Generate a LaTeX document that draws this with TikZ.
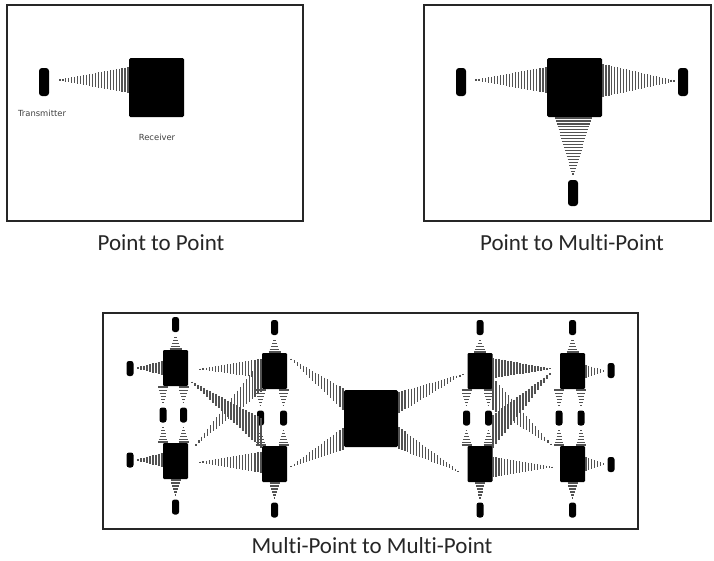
\documentclass[tikz,border=0pt]{standalone}
\usepackage{fontspec}
\setmainfont{Carlito}[Ligatures={NoCommon}]
\newfontfamily\lblfont{DejaVu Sans}
\tikzset{
  frame/.style={draw=black!85, line width=2pt},
  stripe/.style={line width=1.2pt, black!68},
  rxbox/.style={fill=black, rounded corners=1.5pt, inner sep=0pt, minimum width=55pt, minimum height=59pt},
  bigtx/.style={fill=black, rounded corners=3pt, inner sep=0pt, minimum width=10pt, minimum height=28pt},
  mbox/.style={fill=black, rounded corners=1.2pt, inner sep=0pt, minimum width=25pt, minimum height=36pt},
  stx/.style={fill=black, rounded corners=2.5pt, inner sep=0pt, minimum width=7pt, minimum height=15pt},
  capt/.style={font=\fontsize{23}{27}\selectfont, text=black!85, inner sep=0pt},
  lbl/.style={font=\lblfont\fontsize{8.4}{10}\selectfont, text=black!75, inner sep=0pt}
}
% beam with vertical stripes: apex x, apex y, base x, base y1, base y2
\newcommand\vsbeam[5]{%
  \pgfmathtruncatemacro\bmN{max(2,round(abs((#3)-(#1))/3))}%
  \foreach \bmI in {1,...,\bmN}{%
    \pgfmathsetmacro\bmT{\bmI/\bmN}%
    \pgfmathsetmacro\bmX{(#1)+\bmT*((#3)-(#1))}%
    \pgfmathsetmacro\bmYa{(#2)+\bmT*((#4)-(#2))}%
    \pgfmathsetmacro\bmYb{(#2)+\bmT*((#5)-(#2))}%
    \draw[stripe] (\bmX,\bmYa) -- (\bmX,\bmYb);
  }}
% beam with horizontal stripes: apex x, apex y, base y, base x1, base x2
\newcommand\hsbeam[5]{%
  \pgfmathtruncatemacro\bmN{max(2,round(abs((#3)-(#2))/3))}%
  \foreach \bmI in {1,...,\bmN}{%
    \pgfmathsetmacro\bmT{\bmI/\bmN}%
    \pgfmathsetmacro\bmY{(#2)+\bmT*((#3)-(#2))}%
    \pgfmathsetmacro\bmXa{(#1)+\bmT*((#4)-(#1))}%
    \pgfmathsetmacro\bmXb{(#1)+\bmT*((#5)-(#1))}%
    \draw[stripe] (\bmXa,\bmY) -- (\bmXb,\bmY);
  }}
% column of the multi-point panel: name, cx, y0 (top of upper box), left mid x, right mid x
\newcommand\mpcol[5]{%
  \node[mbox] (#1t) at (#2,#3+18) {};
  \node[mbox] (#1b) at (#2,#3+111) {};
  \node[stx] (#1tt) at (#2,#3-25.5) {};
  \node[stx] (#1ml) at (#4,#3+65) {};
  \node[stx] (#1mr) at (#5,#3+65) {};
  \node[stx] (#1bb) at (#2,#3+157) {};
  \hsbeam{#2}{(#3)-15}{(#3)-1}{(#2)-6}{(#2)+6}
  \hsbeam{#4}{(#3)+56}{(#3)+37}{(#4)-5}{(#4)+5}
  \hsbeam{#5}{(#3)+56}{(#3)+37}{(#5)-5}{(#5)+5}
  \hsbeam{#4}{(#3)+75}{(#3)+92}{(#4)-5}{(#4)+5}
  \hsbeam{#5}{(#3)+75}{(#3)+92}{(#5)-5}{(#5)+5}
  \hsbeam{#2}{(#3)+148}{(#3)+130}{(#2)-5}{(#2)+5}
}
\begin{document}
\begin{tikzpicture}[x=1pt,y=-1pt]
\useasboundingbox[fill=white] (0,0) rectangle (714,560);

% ---------- Point to Point ----------
\draw[frame] (7,5) rectangle (303,221);
\node[bigtx] (p1tx) at (44,82) {};
\node[rxbox] (p1rx) at (156.5,87.5) {};
\vsbeam{57}{80}{128}{67}{93}
\node[lbl] (p1tl) at (42,113) {Transmitter};
\node[lbl] (p1rl) at (157,137) {Receiver};
\node[capt] (cap1) at (161,243) {Point to Point};

% ---------- Point to Multi-Point ----------
\draw[frame] (424,5) rectangle (711,221);
\node[rxbox] (p2rx) at (574.5,87.5) {};
\node[bigtx] (p2l) at (461,82) {};
\node[bigtx] (p2r) at (683,82) {};
\node[bigtx, minimum height=26pt] (p2b) at (573,193) {};
\vsbeam{473}{80}{546}{67}{93}
\vsbeam{677}{81}{603}{64}{97}
\hsbeam{573}{177}{118}{555}{592}
\node[capt] (cap2) at (572,243) {Point to Multi-Point};

% ---------- Multi-Point to Multi-Point ----------
\draw[frame] (103,313) rectangle (638,529);
\node[fill=black, rounded corners=1.5pt, inner sep=0pt, minimum width=54pt, minimum height=57pt] (big) at (371,418.5) {};
\mpcol{A}{175.5}{350}{163}{183.5}
\mpcol{B}{274.5}{353}{260.5}{283.5}
\mpcol{C}{480}{353}{466.5}{488.5}
\mpcol{D}{572.5}{353}{559}{581}
\node[stx] (Al1) at (130,368.5) {};
\node[stx] (Al2) at (130,460) {};
\node[stx] (Dr1) at (611,370.5) {};
\node[stx] (Dr2) at (611,464.5) {};
% side beams
\vsbeam{135}{368}{162}{361}{375}
\vsbeam{135}{460}{162}{453}{467}
\vsbeam{606}{371}{586}{365}{378}
\vsbeam{606}{464}{586}{457}{471}
% A -> B
\vsbeam{197}{369}{261}{359}{378}
\vsbeam{197}{462}{261}{452}{473}
\vsbeam{189}{380}{261}{418}{448}
\vsbeam{193}{448}{261}{360}{392}
% B -> big
\vsbeam{288}{357}{343}{388}{410}
\vsbeam{288}{468}{343}{428}{450}
% C -> big
\vsbeam{466}{373}{399}{392}{413}
\vsbeam{461}{473}{399}{427}{449}
% D -> C
\vsbeam{553}{369}{493}{358}{378}
\vsbeam{555}{467}{493}{457}{477}
\vsbeam{553}{371}{493}{415}{448}
\vsbeam{554}{447}{493}{378}{410}
\node[capt] (cap3) at (372,546) {Multi-Point to Multi-Point};
\end{tikzpicture}
\end{document}
